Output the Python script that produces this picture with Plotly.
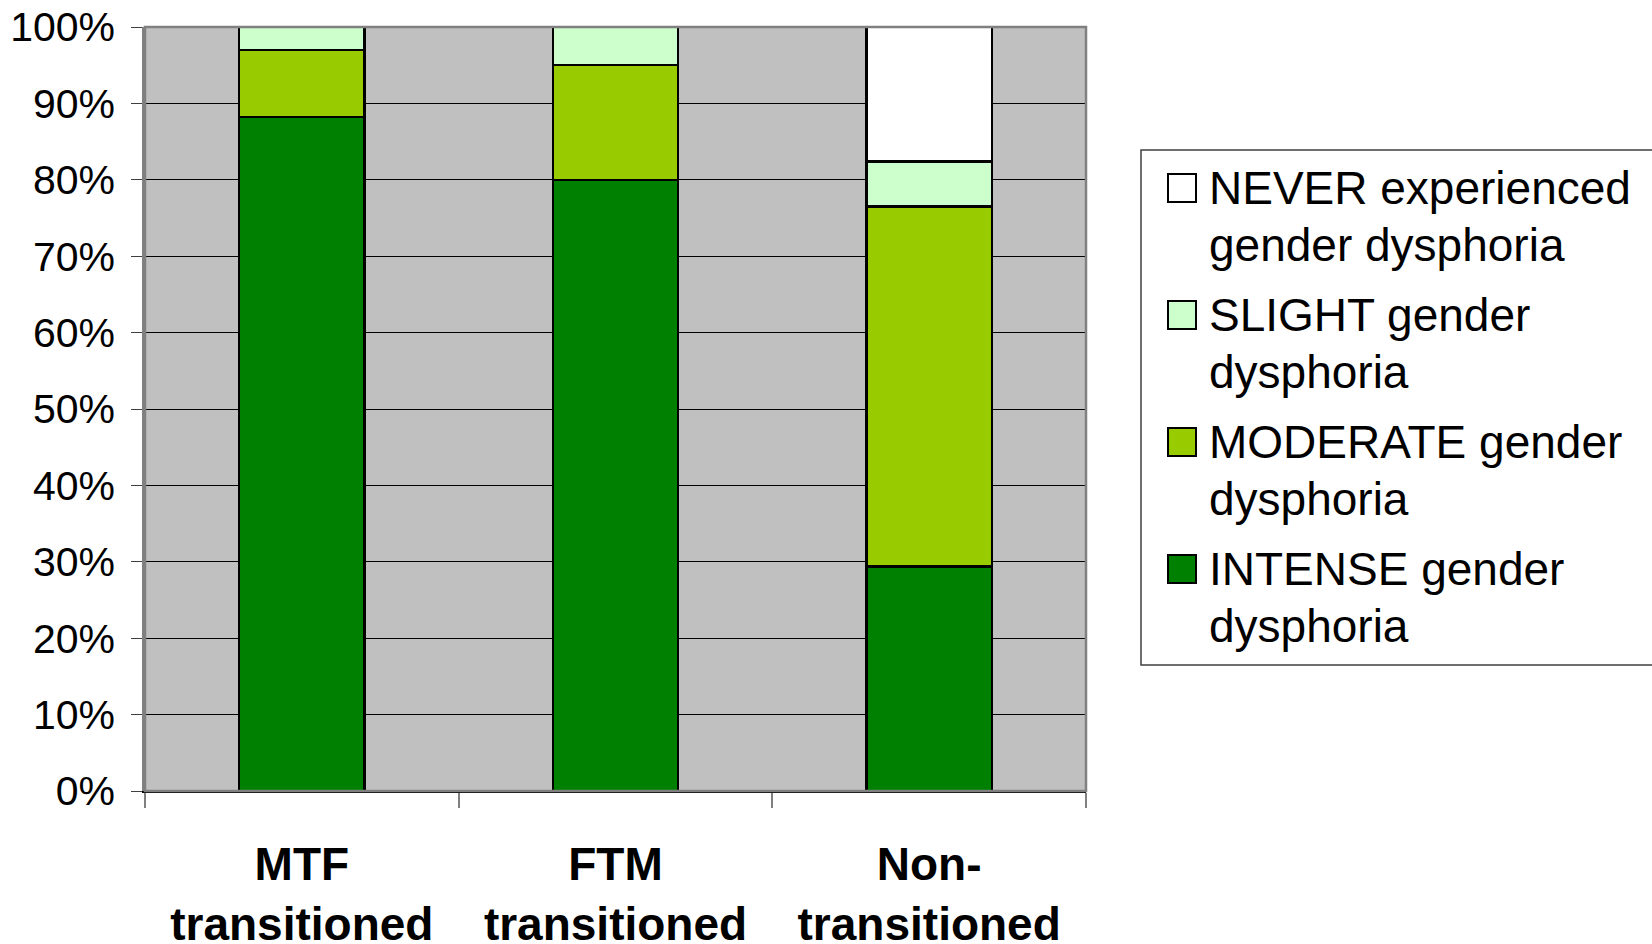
import plotly.graph_objects as go

# Share of respondents in each group by gender dysphoria level
groups = ["MTF<br>transitioned", "FTM<br>transitioned", "Non-<br>transitioned"]
intense = [0.882, 0.80, 0.294]
moderate = [0.088, 0.15, 0.471]
slight = [0.030, 0.05, 0.059]
never = [None, None, 0.176]

series_names = [
    ["INTENSE gender", "dysphoria"],
    ["MODERATE gender", "dysphoria"],
    ["SLIGHT gender", "dysphoria"],
    ["NEVER experienced", "gender dysphoria"],
]
series_values = [intense, moderate, slight, never]
series_colors = ["#008000", "#99CC00", "#CCFFCC", "#FFFFFF"]

W, H = 1652, 944
L, R, T, B = 145, 566, 27, 153
PW, PH = W - L - R, H - T - B
FONT = "Liberation Sans, Arial"


def px(x):
    return (x - L) / PW


def py(y):
    return (H - B - y) / PH


fig = go.Figure()
for name, vals, col in zip(series_names, series_values, series_colors):
    fig.add_trace(go.Bar(
        x=groups, y=vals, name=" ".join(name),
        marker=dict(color=col, line=dict(color="black", width=2.5)),
        showlegend=False,
    ))

shapes = [
    # legend box
    dict(type="rect", xref="paper", yref="paper",
         x0=px(1141), x1=px(1670), y0=py(665), y1=py(150),
         line=dict(color="#404040", width=1.5), fillcolor="white", layer="above"),
    # plot-area frame
    dict(type="rect", xref="paper", yref="paper", x0=0, x1=1, y0=0, y1=1,
         line=dict(color="#808080", width=2.5), layer="above"),
]
annotations = []
item_top = 188
pitch = 127
line_gap = 57
# legend entries, top item first (reverse of stacking order)
for i, (name, col) in enumerate(zip(series_names[::-1], series_colors[::-1])):
    cy = item_top + i * pitch
    shapes.append(dict(type="rect", xref="paper", yref="paper",
                       x0=px(1168), x1=px(1196), y0=py(cy + 14), y1=py(cy - 14),
                       fillcolor=col, line=dict(color="black", width=2), layer="above"))
    for j, line in enumerate(name):
        annotations.append(dict(
            xref="paper", yref="paper", x=px(1207), y=py(cy + j * line_gap),
            xanchor="left", yanchor="middle", align="left", showarrow=False,
            text=line, font=dict(family=FONT, size=46, color="black"),
        ))

fig.update_layout(
    width=W, height=H,
    margin=dict(l=L, r=R, t=T, b=B, pad=0),
    paper_bgcolor="white",
    plot_bgcolor="#C0C0C0",
    barmode="stack",
    bargap=0.6,
    font=dict(family=FONT, color="black"),
    shapes=shapes,
    annotations=annotations,
    xaxis=dict(
        automargin=False,
        showgrid=False, tickson="boundaries", ticks="outside", ticklen=15,
        tickcolor="#808080", tickwidth=1.5,
        showline=True, linecolor="black", linewidth=1.5,
        tickfont=dict(family=FONT, size=46, color="black", weight="bold"),
        ticklabelstandoff=32,
    ),
    yaxis=dict(
        automargin=False,
        range=[0, 1], dtick=0.1, tickformat=".0%",
        showgrid=True, gridcolor="black", gridwidth=1,
        ticks="outside", ticklen=11, tickcolor="#404040",
        showline=True, linecolor="#808080", linewidth=2.5,
        tickfont=dict(family=FONT, size=41, color="black"),
        ticklabelstandoff=8, zeroline=False,
    ),
)

fig.write_html("out.html")
